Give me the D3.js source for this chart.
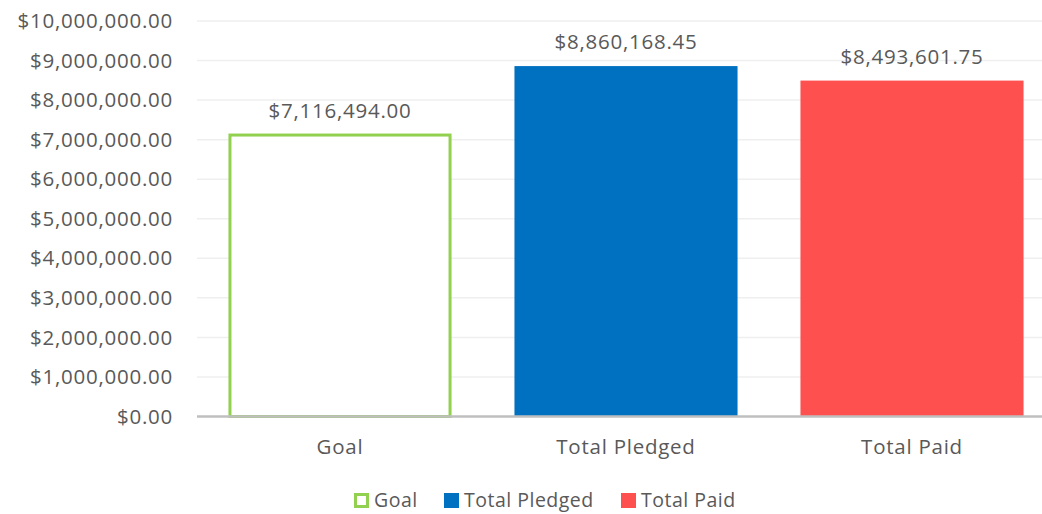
<!DOCTYPE html>
<html><head><meta charset="utf-8">
<script src="https://cdn.jsdelivr.net/npm/d3@7/dist/d3.min.js"></script>
<style>body{margin:0;background:#fff}svg{display:block}text{font-family:"Open Sans",sans-serif;fill:#595959;font-size:20.5px;letter-spacing:0.75px}</style>
</head><body><svg id="c" width="1042" height="514"></svg>
<script>
const categories = ["Goal", "Total Pledged", "Total Paid"];
const values = [7116494.00, 8860168.45, 8493601.75];
const tickValues = [0,1000000,2000000,3000000,4000000,5000000,6000000,7000000,8000000,9000000,10000000];
const colors = ["#92D050", "#0070C0", "#FF5050"];

const svg = d3.select("#c");
const x = d3.scaleBand().domain(categories).range([197, 1055]).paddingInner(0.22).paddingOuter(0.11);
const y = d3.scaleLinear().domain([0, 10000000]).range([416.5, 21]);
const fmt = v => "$" + d3.format(",.2f")(v);

svg.append("g").selectAll("line").data(tickValues.slice(1)).join("line")
  .attr("x1", 197).attr("x2", 1058).attr("y1", d => y(d)).attr("y2", d => y(d))
  .attr("stroke", "#EFEFEF").attr("stroke-width", 1.5);

svg.append("g").selectAll("text").data(tickValues).join("text")
  .attr("x", 173).attr("y", d => y(d)).attr("dy", "0.35em").attr("text-anchor", "end")
  .text(d => fmt(d));

const bw = x.bandwidth();
svg.append("g").selectAll("rect").data(categories).join("rect")
  .attr("x", (d,i) => i === 0 ? x(d) + 1.5 : x(d))
  .attr("y", (d,i) => y(values[i]))
  .attr("width", (d,i) => i === 0 ? bw - 3 : bw)
  .attr("height", (d,i) => y(0) - y(values[i]))
  .attr("fill", (d,i) => i === 0 ? "#fff" : colors[i])
  .attr("stroke", (d,i) => i === 0 ? colors[0] : "none")
  .attr("stroke-width", 3);

svg.append("line").attr("x1", 197).attr("x2", 1058).attr("y1", y(0)).attr("y2", y(0))
  .attr("stroke", "#BFBFBF").attr("stroke-width", 2.5);

svg.append("g").selectAll("text").data(categories).join("text")
  .attr("x", d => x(d) + bw/2).attr("y", (d,i) => y(values[i]) - 17)
  .attr("text-anchor", "middle")
  .text((d,i) => fmt(values[i]));

svg.append("g").selectAll("text").data(categories).join("text")
  .attr("x", d => x(d) + bw/2).attr("y", 454)
  .attr("text-anchor", "middle").text(d => d);

const legX = [354, 444, 621];
const lg = svg.append("g");
categories.forEach((c,i) => {
  const g = lg.append("g").attr("transform", `translate(${legX[i]},493)`);
  if (i === 0) g.append("rect").attr("x",1.5).attr("y",1.5).attr("width",12).attr("height",12).attr("fill","#fff").attr("stroke",colors[0]).attr("stroke-width",3);
  else g.append("rect").attr("width",15).attr("height",15).attr("fill",colors[i]);
  g.append("text").attr("x", i===0?20:20).attr("y", 7.5).attr("dy","0.35em")
    .style("font-size","19.5px").style("letter-spacing","0.5px").text(c);
});
</script></body></html>
